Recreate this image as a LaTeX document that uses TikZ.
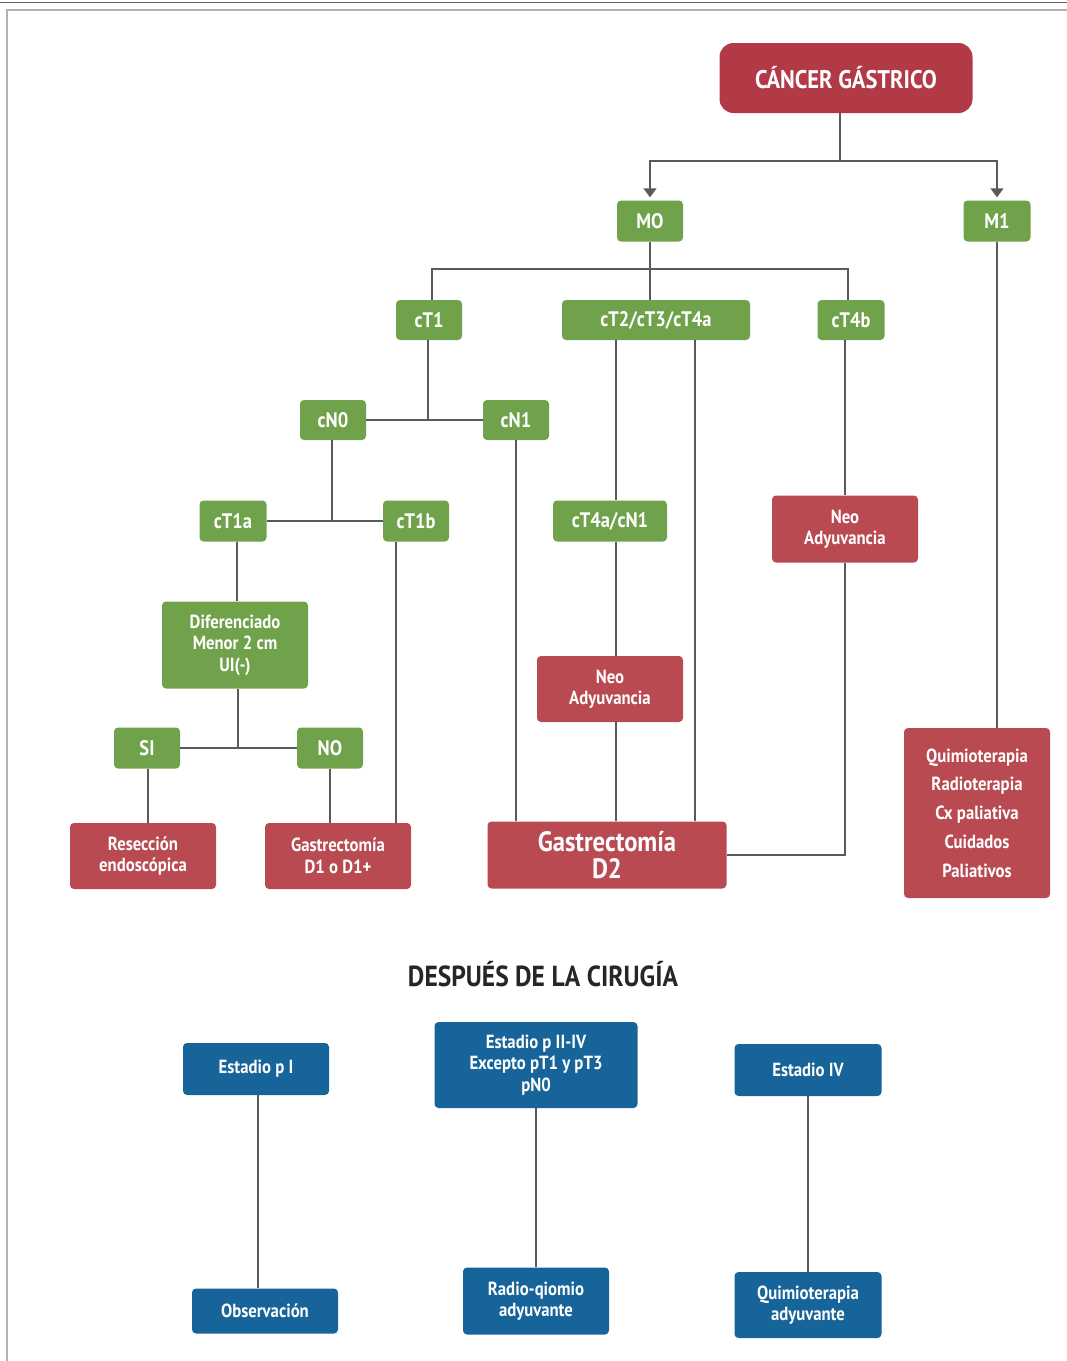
\documentclass[tikz,border=0pt]{standalone}
\usepackage{fontspec}
\usetikzlibrary{arrows.meta}
\newfontfamily\cf{PT Sans}[FakeStretch=0.88]
\definecolor{redA}{HTML}{B23A46}
\definecolor{redB}{HTML}{B94A51}
\definecolor{grn}{HTML}{6FA24B}
\definecolor{blu}{HTML}{17649A}
\definecolor{ln}{HTML}{5A5A5A}
\newcommand{\fsz}[2]{\fontsize{#1}{#2}\selectfont}
\tikzset{
  bx/.style={rounded corners=4pt, inner sep=0pt, align=center, text=white, font=\cf\bfseries\fsz{19}{21.5}},
  gbox/.style={bx, fill=grn},
  rbox/.style={bx, fill=redB},
  bbox/.style={bx, fill=blu},
  con/.style={draw=ln, line width=1.5pt},
  thin con/.style={draw=ln, line width=1.1pt},
  tri/.style={con, -{Triangle[width=13pt,length=9pt]}, shorten >=3pt}
}
\begin{document}
\begin{tikzpicture}[x=1pt,y=-1pt]
\useasboundingbox (0,0) rectangle (1067,1361);
% frame
\draw[draw=gray!80!black, line width=0.8pt] (0,2) -- (1067,2);
\draw[draw=gray!60, line width=2pt] (1067,10) -- (7,10) -- (7,1361);
% nodes
\node[rbox, fill=redA, rounded corners=14pt, minimum width=253pt, minimum height=70pt, font=\cf\bfseries\fsz{25.5}{27}] (cg) at (846,78) {CÁNCER GÁSTRICO};
\node[gbox, minimum width=66pt, minimum height=41pt, font=\cf\bfseries\fsz{21}{23}] (m0) at (650,221) {MO};
\node[gbox, minimum width=67pt, minimum height=41pt, font=\cf\bfseries\fsz{21}{23}] (m1) at (997,221) {M1};
\node[gbox, minimum width=66pt, minimum height=40pt, font=\cf\bfseries\fsz{21}{23}] (ct1) at (429,320) {cT1};
\node[gbox, minimum width=188pt, minimum height=40pt, font=\cf\bfseries\fsz{21}{23}] (ct234) at (656,320) {cT2/cT3/cT4a};
\node[gbox, minimum width=67pt, minimum height=40pt, font=\cf\bfseries\fsz{21}{23}] (ct4b) at (851,320) {cT4b};
\node[gbox, minimum width=66pt, minimum height=40pt, font=\cf\bfseries\fsz{21}{23}] (cn0) at (333,420) {cN0};
\node[gbox, minimum width=66pt, minimum height=40pt, font=\cf\bfseries\fsz{21}{23}] (cn1) at (516,420) {cN1};
\node[gbox, minimum width=67pt, minimum height=41pt, font=\cf\bfseries\fsz{21}{23}] (ct1a) at (233,521) {cT1a};
\node[gbox, minimum width=66pt, minimum height=41pt, font=\cf\bfseries\fsz{21}{23}] (ct1b) at (416,521) {cT1b};
\node[gbox, minimum width=146pt, minimum height=87pt] (dif) at (235,645) {Diferenciado\\Menor 2 cm\\UI(-)};
\node[gbox, minimum width=66pt, minimum height=41pt, font=\cf\bfseries\fsz{21}{23}] (si) at (147,748) {SI};
\node[gbox, minimum width=66pt, minimum height=41pt, font=\cf\bfseries\fsz{21}{23}] (no) at (330,748) {NO};
\node[rbox, minimum width=146pt, minimum height=66pt] (res) at (143,856) {Resección\\endoscópica};
\node[rbox, minimum width=146pt, minimum height=66pt] (gd1) at (338,856) {Gastrectomía\\D1 o D1+};
\node[gbox, minimum width=114pt, minimum height=41pt, font=\cf\bfseries\fsz{21}{23}] (ct4an1) at (610,521) {cT4a/cN1};
\node[rbox, minimum width=146pt, minimum height=66pt] (neo1) at (610,689) {Neo\\Adyuvancia};
\node[rbox, minimum width=239pt, minimum height=67pt, font=\cf\bfseries\fsz{28}{27}] (gd2) at (607,855) {Gastrectomía\\D2};
\node[rbox, minimum width=146pt, minimum height=67pt] (neo2) at (845,529) {Neo\\Adyuvancia};
\node[rbox, minimum width=146pt, minimum height=170pt, font=\cf\bfseries\fsz{19}{28.8}] (quim) at (977,813) {Quimioterapia\\Radioterapia\\Cx paliativa\\Cuidados\\Paliativos};
% after surgery
\node[font=\cf\bfseries\fsz{29}{30}, text=black!85] (title) at (543,974) {DESPUÉS DE LA CIRUGÍA};
\node[bbox, minimum width=146pt, minimum height=52pt] (ep1) at (256,1069) {Estadio p I};
\node[bbox, minimum width=203pt, minimum height=86pt] (ep2) at (536,1065) {Estadio p II-IV\\Excepto pT1 y pT3\\pN0};
\node[bbox, minimum width=147pt, minimum height=52pt] (ep4) at (808,1070) {Estadio IV};
\node[bbox, minimum width=146pt, minimum height=45pt] (obs) at (265,1311) {Observación};
\node[bbox, minimum width=146pt, minimum height=67pt] (rq) at (536,1301) {Radio-qiomio\\adyuvante};
\node[bbox, minimum width=147pt, minimum height=66pt] (qa) at (808,1305) {Quimioterapia\\adyuvante};
% connectors
\coordinate (j1) at (840,161);
\coordinate (j2) at (650,269);
\coordinate (v1) at (616,0);
\coordinate (v2) at (695,0);
\draw[con] (cg.south -| j1) -- (j1);
\draw[tri] (j1) -| (m0.north);
\draw[tri] (j1) -| (m1.north);
\draw[con] (m0.south) -- (m0.south |- ct234.north);
\draw[con] ([xshift=3pt]ct1.north) |- (j2) -| ([xshift=-3pt]ct4b.north);
\draw[con] ([xshift=-1pt]ct1.south) -- ([xshift=-1pt]ct1.south |- cn0.east);
\draw[con] (cn0.east) -- (cn1.west);
\draw[con] ([xshift=-1pt]cn0.south) -- ([xshift=-1pt]cn0.south |- ct1a.east);
\draw[con] (ct1a.east) -- (ct1b.west);
\draw[con] ([xshift=4pt]ct1a.south) -- ([xshift=4pt]ct1a.south |- dif.north);
\draw[con] ([xshift=3pt]dif.south) -- ([xshift=3pt]dif.south |- si.east);
\draw[con] (si.east) -- (no.west);
\draw[con] ([xshift=1pt]si.south) -- ([xshift=1pt]si.south |- res.north);
\draw[con] (no.south) -- (no.south |- gd1.north);
\draw[con] ([xshift=-20pt]ct1b.south) -- ([xshift=-20pt]ct1b.south |- gd1.north);
\draw[con] (cn1.south) -- (cn1.south |- gd2.north);
\draw[con] (ct234.south -| v1) -- (ct4an1.north -| v1);
\draw[con] (ct4an1.south -| v1) -- (neo1.north -| v1);
\draw[con] (neo1.south -| v1) -- (gd2.north -| v1);
\draw[con] (ct234.south -| v2) -- (gd2.north -| v2);
\draw[con] (neo2.north |- ct4b.south) -- (neo2.north);
\draw[con] (neo2.south) |- (gd2.east);
\draw[con] (m1.south) -- (m1.south |- quim.north);
\draw[thin con] ([xshift=2pt]ep1.south) -- ([xshift=2pt]ep1.south |- obs.north);
\draw[thin con] (ep2.south) -- (ep2.south |- rq.north);
\draw[thin con] (ep4.south) -- (ep4.south |- qa.north);
\end{tikzpicture}
\end{document}
